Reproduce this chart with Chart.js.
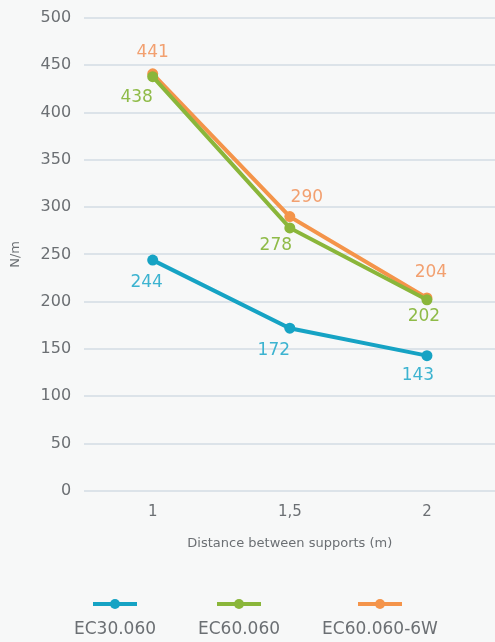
<!DOCTYPE html>
<html>
<head>
<meta charset="utf-8">
<script src="https://cdn.jsdelivr.net/npm/chart.js@4/dist/chart.umd.min.js"></script>
<style>
  html, body { margin: 0; padding: 0; background: #f7f8f8; overflow: hidden; }
  #wrap { width: 501px; height: 642px; position: relative; }
</style>
</head>
<body>
<div id="wrap"><canvas id="lineChart"></canvas></div>
<script>
var distances = ['1', '1,5', '2'];
var ec30 = [244, 172, 143];
var ec60 = [438, 278, 202];
var ec60w = [441, 290, 204];
var yTicks = [0, 50, 100, 150, 200, 250, 300, 350, 400, 450, 500];

var lineColors = ['#16a3c4', '#8ab63a', '#f4944a'];
var labelColors = ['#3cb3d0', '#8fbb48', '#f2a070'];
var fontName = '"DejaVu Sans", sans-serif';

// where each value label sits relative to its point (dx, dy)
var labelOffsets = [
    [[-6, 22], [-16, 22], [-9, 20]],
    [[-16, 21], [-14, 18], [-3, 17]],
    [[0, -21], [17, -19], [4, -25]]
];

var valueLabels = {
    id: 'valueLabels',
    afterDatasetsDraw: function (chart) {
        var ctx = chart.ctx;
        ctx.save();
        ctx.font = '17px ' + fontName;
        ctx.textAlign = 'center';
        ctx.textBaseline = 'middle';
        chart.data.datasets.forEach(function (ds, i) {
            chart.getDatasetMeta(i).data.forEach(function (pt, j) {
                ctx.fillStyle = labelColors[i];
                ctx.fillText(ds.data[j], pt.x + labelOffsets[i][j][0], pt.y + labelOffsets[i][j][1]);
            });
        });
        ctx.restore();
    }
};

var bottomLegend = {
    id: 'bottomLegend',
    afterDraw: function (chart) {
        var ctx = chart.ctx;
        var centers = [115, 239, 380];
        ctx.save();
        chart.data.datasets.forEach(function (ds, i) {
            var cx = centers[i];
            ctx.strokeStyle = lineColors[i];
            ctx.lineWidth = 4;
            ctx.beginPath();
            ctx.moveTo(cx - 22, 604);
            ctx.lineTo(cx + 22, 604);
            ctx.stroke();
            ctx.fillStyle = lineColors[i];
            ctx.beginPath();
            ctx.arc(cx, 604, 5, 0, Math.PI * 2);
            ctx.fill();
            ctx.fillStyle = '#6b6f73';
            ctx.font = '17px ' + fontName;
            ctx.textAlign = 'center';
            ctx.textBaseline = 'middle';
            ctx.fillText(ds.label, cx, 630);
        });
        ctx.restore();
    }
};

var lineChart = new Chart(document.getElementById('lineChart'), {
    type: 'line',
    data: {
        labels: distances,
        datasets: [
            { label: 'EC30.060', data: ec30, borderColor: lineColors[0], backgroundColor: lineColors[0] },
            { label: 'EC60.060', data: ec60, borderColor: lineColors[1], backgroundColor: lineColors[1] },
            { label: 'EC60.060-6W', data: ec60w, borderColor: lineColors[2], backgroundColor: lineColors[2] }
        ]
    },
    options: {
        responsive: true,
        maintainAspectRatio: false,
        animation: false,
        elements: {
            line: { borderWidth: 4, tension: 0 },
            point: { radius: 5.5, borderWidth: 0 }
        },
        layout: { padding: { top: 18, right: 0, left: 4, bottom: 86.5 } },
        plugins: {
            legend: { display: false },
            tooltip: { enabled: false }
        },
        scales: {
            x: {
                offset: true,
                afterFit: function (axis) { axis.paddingLeft = 0; axis.paddingRight = 0; },
                grid: { display: false, drawTicks: false },
                border: { display: false },
                ticks: { color: '#6b6f73', font: { family: fontName, size: 15 }, padding: 12 },
                title: { display: true, text: 'Distance between supports (m)', color: '#6b6f73', font: { family: fontName, size: 13 }, padding: { top: 3 } }
            },
            y: {
                min: 0,
                max: 500,
                afterBuildTicks: function (axis) {
                    axis.ticks = yTicks.map(function (v) { return { value: v }; });
                },
                afterFit: function (axis) { axis.paddingTop = 0; axis.paddingBottom = 0; },
                grid: { color: '#dce3e9', lineWidth: 2, drawTicks: false },
                border: { display: false },
                ticks: { color: '#6b6f73', font: { family: fontName, size: 16 }, padding: 13 },
                title: { display: true, text: 'N/m', color: '#6b6f73', font: { family: fontName, size: 13 } }
            }
        }
    },
    plugins: [valueLabels, bottomLegend]
});
</script>
</body>
</html>
